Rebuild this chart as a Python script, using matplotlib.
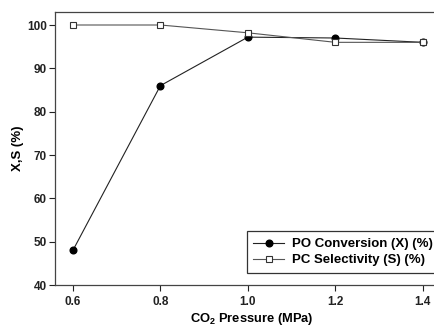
import matplotlib
matplotlib.use("Agg")
import matplotlib.pyplot as plt

# data
pressure = [0.6, 0.8, 1.0, 1.2, 1.4]
conversion = [48, 86, 97.2, 97, 96]
selectivity = [100, 100, 98.2, 96, 96]

plt.rcParams["font.family"] = ["Liberation Sans", "DejaVu Sans"]
plt.rcParams["font.weight"] = "bold"
plt.rcParams["mathtext.fontset"] = "custom"
plt.rcParams["mathtext.bf"] = "Liberation Sans:bold"
plt.rcParams["mathtext.rm"] = "Liberation Sans:bold"

fig = plt.figure(figsize=(4.35, 3.27), dpi=100)
ax = fig.add_axes([55 / 435, 42 / 327, 394 / 435, 273 / 327])

ax.plot(pressure, conversion, color="#222222", lw=0.8, marker="o",
        ms=4.8, mfc="black", mec="black", label="PO Conversion (X) (%)")
ax.plot(pressure, selectivity, color="#555555", lw=0.8, marker="s",
        ms=4.6, mfc="white", mec="#333333", mew=0.8,
        label="PC Selectivity (S) (%)")

ax.set_xlim(0.559, 1.46)
ax.set_ylim(40, 103)
ax.set_xticks(pressure)
ax.set_xticklabels(["0.6", "0.8", "1.0", "1.2", "1.4"])
ax.set_yticks([40, 50, 60, 70, 80, 90, 100])

ax.tick_params(direction="out", length=4, width=0.8, labelsize=8.5, pad=4,
               colors="#222222")
ax.tick_params(axis="y", length=4, pad=2)
for s in ax.spines.values():
    s.set_color("#444444")
    s.set_linewidth(0.9)

ax.set_xlabel("CO$_\\mathbf{2}$ Pressure (MPa)", fontsize=9.3,
              fontweight="bold", labelpad=2)
ax.set_ylabel("X,S (%)", fontsize=9.5, fontweight="bold", labelpad=2)

leg = ax.legend(loc="lower right", bbox_to_anchor=(0.975, 0.044),
                fontsize=9.5, frameon=True, fancybox=False,
                borderpad=0.5, handlelength=2.3, handletextpad=0.6,
                labelspacing=0.3, borderaxespad=0.0)
leg.get_frame().set_edgecolor("black")
leg.get_frame().set_linewidth(0.9)

fig.savefig("out.png", dpi=100)
